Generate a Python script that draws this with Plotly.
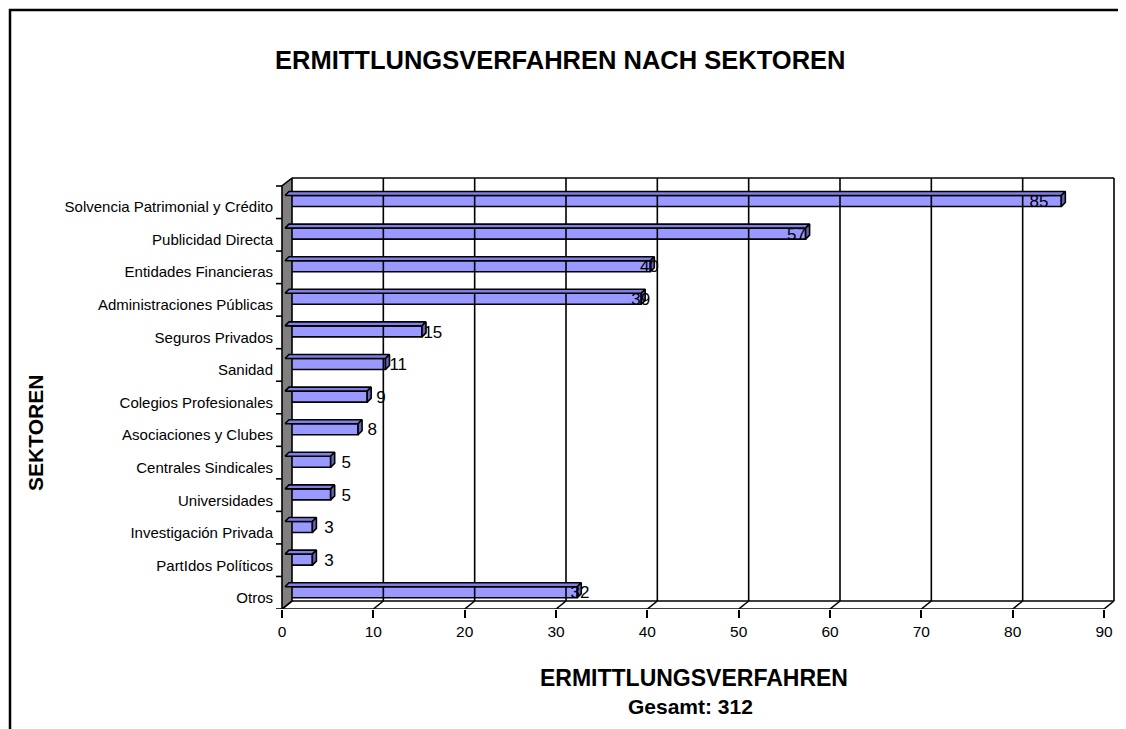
import plotly.graph_objects as go

# ---------------- data ----------------
categories = ["Solvencia Patrimonial y Crédito", "Publicidad Directa", "Entidades Financieras",
              "Administraciones Públicas", "Seguros Privados", "Sanidad", "Colegios Profesionales",
              "Asociaciones y Clubes", "Centrales Sindicales", "Universidades",
              "Investigación Privada", "PartIdos Políticos", "Otros"]
values = [85, 57, 40, 39, 15, 11, 9, 8, 5, 5, 3, 3, 32]
x_ticks = [0, 10, 20, 30, 40, 50, 60, 70, 80, 90]
title_text = "ERMITTLUNGSVERFAHREN NACH SEKTOREN"
x_title = "ERMITTLUNGSVERFAHREN"
total_text = "Gesamt: 312"
y_title = "SEKTOREN"

# ---------------- geometry (reference-page pixels) ----------------
OFF = 8                         # page body margin
W, H = 1126 - OFF, 729 - OFF
FX0, FX90 = 282, 1104           # front x positions of 0 and 90
L_PX, R_PX = 274, 1120          # plot area
T_PX, B_PX = 160, 609
P0, UY = 207, 32.6              # pixel of first category label, band height
FT = 186                        # front top of plane
WX, WY = 10, -8                 # wall depth offset
BX = 3                          # bar front offset
BD = 4                          # bar depth
BH = 5.5                        # bar half height
BAR_SHIFT = -6                  # bar centre relative to label

UX = (FX90 - FX0) / (x_ticks[-1] - x_ticks[0])
xr = [(L_PX - FX0) / UX, (R_PX - FX0) / UX]
yr = [(B_PX - P0) / UY, (T_PX - P0) / UY]


def dx(px):
    return px / UX


def dy(px):
    return px / UY


def pxx(px):
    return (px - L_PX) / (R_PX - L_PX)


def pxy(py):
    return (B_PX - py) / (B_PX - T_PX)


y_ft = (FT - P0) / UY
y_fb = (B_PX - P0) / UY
xmax = x_ticks[-1]
n = len(categories)
ys = list(range(n))

fig = go.Figure()

# left wall
fig.add_trace(go.Scatter(
    x=[0, dx(WX), dx(WX), 0, 0], y=[y_fb, y_fb + dy(WY), y_ft + dy(WY), y_ft, y_fb],
    mode="lines", fill="toself", fillcolor="#808080",
    line=dict(color="black", width=1.6), hoverinfo="skip", showlegend=False))

# back gridlines, back frame, floor, y ticks
gx, gy = [], []
for v in x_ticks[1:]:
    gx += [v + dx(WX), v + dx(WX), None]
    gy += [y_fb + dy(WY), y_ft + dy(WY), None]
gx += [dx(WX), xmax + dx(WX), None, dx(WX), xmax + dx(WX), None, 0, xmax, None]
gy += [y_ft + dy(WY), y_ft + dy(WY), None, y_fb + dy(WY), y_fb + dy(WY), None, y_fb, y_fb, None]
for v in x_ticks:
    gx += [v, v + dx(WX), None]
    gy += [y_fb, y_fb + dy(WY), None]
for k in range(n + 1):
    yb = y_ft + k * (y_fb - y_ft) / n
    gx += [dx(-6), 0, None]
    gy += [yb, yb, None]
fig.add_trace(go.Scatter(x=gx, y=gy, mode="lines", line=dict(color="black", width=1.6),
                         hoverinfo="skip", showlegend=False))

# bars (top and end faces)
for i, v in enumerate(values):
    yc = i + dy(BAR_SHIFT)
    x0 = dx(BX)
    x1 = dx(BX) + v
    yt = yc - dy(BH)
    yb = yc + dy(BH)
    fig.add_trace(go.Scatter(
        x=[x0, x1, x1 + dx(BD), x0 + dx(BD), x0],
        y=[yt, yt, yt - dy(BD), yt - dy(BD), yt],
        mode="lines", fill="toself", fillcolor="#7F7FE6",
        line=dict(color="black", width=1.6), hoverinfo="skip", showlegend=False))
    fig.add_trace(go.Scatter(
        x=[x1, x1 + dx(BD), x1 + dx(BD), x1, x1],
        y=[yt, yt - dy(BD), yb - dy(BD), yb, yt],
        mode="lines", fill="toself", fillcolor="#6666B8",
        line=dict(color="black", width=1.6), hoverinfo="skip", showlegend=False))

# bars (front faces)
fig.add_trace(go.Bar(
    x=values, y=[i + dy(BAR_SHIFT) for i in ys], base=dx(BX), orientation="h",
    width=dy(2 * BH), marker=dict(color="#9999FF", line=dict(color="black", width=1.6)),
    showlegend=False, hoverinfo="skip"))

# data labels (Excel 3-D projected positions)
fig.add_trace(go.Scatter(
    x=[0.948 * v + 2.3 for v in values], y=[i + dy(-4) for i in ys],
    mode="text", text=[str(v) for v in values], textposition="middle center",
    textfont=dict(family="Liberation Sans, Arial", size=17, color="black"),
    hoverinfo="skip", showlegend=False, cliponaxis=False))

fig.update_layout(
    width=W, height=H,
    margin=dict(l=L_PX - OFF, r=1126 - R_PX, t=T_PX - OFF, b=729 - B_PX, pad=0),
    paper_bgcolor="white", plot_bgcolor="white",
    barmode="overlay", hovermode=False,
    font=dict(family="Liberation Sans, Arial", color="black"),
    xaxis=dict(range=xr, tickvals=x_ticks, ticks="outside", ticklen=8, tickwidth=1.6,
               tickcolor="black", showgrid=False, zeroline=False, showline=False,
               tickfont=dict(size=15.5, color="black")),
    yaxis=dict(range=yr, tickvals=ys, ticktext=categories, ticks="", showgrid=False,
               zeroline=False, showline=False, tickfont=dict(size=15, color="black")),
    shapes=[dict(type="rect", xref="paper", yref="paper",
                 x0=pxx(10), x1=pxx(1122), y0=pxy(10), y1=pxy(745),
                 line=dict(color="black", width=2.5), fillcolor="rgba(0,0,0,0)", layer="above")],
    annotations=[
        dict(text="<b>" + title_text + "</b>", xref="paper", yref="paper",
             x=pxx(560), y=pxy(60), showarrow=False, font=dict(size=25.5),
             xanchor="center", yanchor="middle"),
        dict(text="<b>" + x_title + "</b>", xref="paper", yref="paper",
             x=pxx(694), y=pxy(678), showarrow=False, font=dict(size=23),
             xanchor="center", yanchor="middle"),
        dict(text="<b>" + total_text + "</b>", xref="paper", yref="paper",
             x=pxx(690), y=pxy(706), showarrow=False, font=dict(size=21),
             xanchor="center", yanchor="middle"),
        dict(text="<b>" + y_title + "</b>", xref="paper", yref="paper",
             x=pxx(35), y=pxy(433), showarrow=False, font=dict(size=21), textangle=-90,
             xanchor="center", yanchor="middle"),
    ],
)

fig.write_html("out.html")
